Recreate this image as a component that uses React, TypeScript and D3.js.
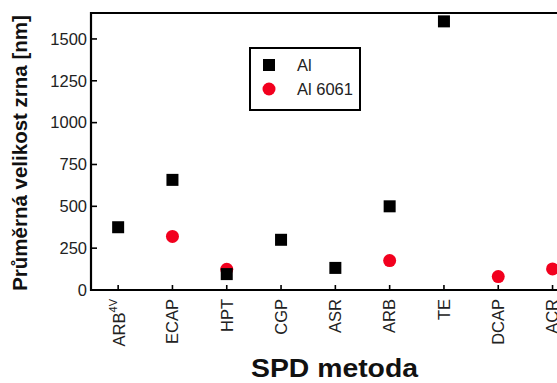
import React from "react";
import * as d3 from "d3";

const categories = ["ARB4V", "ECAP", "HPT", "CGP", "ASR", "ARB", "TE", "DCAP", "ACR"];
const alValues: (number | null)[] = [375, 658, 95, 300, 132, 500, 1605, null, null];
const al6061Values: (number | null)[] = [null, 320, 124, null, null, 176, null, 80, 126];
const yTicks = [0, 250, 500, 750, 1000, 1250, 1500];
const seriesNames = ["Al", "Al 6061"];

const W = 557;
const H = 383;
const left = 91;
const top = 13;
const bottom = 290;

export default function App() {
  const x = d3.scalePoint<string>().domain(categories).range([left, left + 9 * 54.3]).padding(0.5);
  const y = d3.scaleLinear().domain([0, 1655]).range([bottom, top]);
  const font = "Arial, 'Liberation Sans', sans-serif";

  return (
    <svg width={W} height={H} style={{ position: "absolute", left: 0, top: 0, background: "#fff" }} fontFamily={font}>
      {/* axes */}
      <line x1={left} y1={top} x2={W} y2={top} stroke="#000" strokeWidth={2.2} />
      <line x1={left} y1={top - 1} x2={left} y2={bottom + 1} stroke="#000" strokeWidth={2.2} />
      <line x1={left - 1} y1={bottom} x2={W} y2={bottom} stroke="#000" strokeWidth={2.2} />

      {yTicks.map((t) => (
        <g key={t}>
          <line x1={left} x2={left + 6} y1={y(t)} y2={y(t)} stroke="#000" strokeWidth={1.6} />
          <text x={left - 4} y={y(t)} dy="0.35em" textAnchor="end" fontSize={16.5} fill="#222">
            {t}
          </text>
        </g>
      ))}

      {categories.map((c) => {
        const cx = x(c)!;
        const isSup = c === "ARB4V";
        return (
          <g key={c}>
            <line x1={cx} x2={cx} y1={bottom} y2={bottom - 5} stroke="#000" strokeWidth={1.6} />
            <text
              transform={`translate(${cx + (isSup ? 1 : 0)},${bottom + 9}) rotate(-90)`}
              dy="0.35em"
              textAnchor="end"
              fontSize={16.5}
              fill="#222"
            >
              {isSup ? (
                <>
                  <tspan>ARB</tspan>
                  <tspan fontSize={11} dy="-0.7em">4V</tspan>
                </>
              ) : (
                c
              )}
            </text>
          </g>
        );
      })}

      {/* data */}
      {categories.map((c, i) =>
        al6061Values[i] == null ? null : (
          <circle key={"r" + c} cx={x(c)!} cy={y(al6061Values[i] as number)} r={6.5} fill="#f2001e" />
        )
      )}
      {categories.map((c, i) =>
        alValues[i] == null ? null : (
          <rect
            key={"b" + c}
            x={x(c)! - 6}
            y={y(alValues[i] as number) - 6}
            width={12}
            height={12}
            fill="#000"
          />
        )
      )}

      {/* legend */}
      <rect x={250} y={48} width={110} height={62} fill="#fff" stroke="#000" strokeWidth={2} />
      <rect x={263} y={59} width={12} height={12} fill="#000" />
      <text x={297} y={65} dy="0.35em" fontSize={16.5} fill="#222">{seriesNames[0]}</text>
      <circle cx={269} cy={89} r={6.5} fill="#f2001e" />
      <text x={297} y={89} dy="0.35em" fontSize={16.5} fill="#222">{seriesNames[1]}</text>

      {/* titles */}
      <text
        transform={`translate(27,153) rotate(-90)`}
        textAnchor="middle"
        fontSize={20.5}
        fontWeight="bold"
        fill="#111"
      >
        Průměrná velikost zrna [nm]
      </text>
      <text x={334.5} y={377} textAnchor="middle" fontSize={26} fontWeight="bold" fill="#111" textLength={167} lengthAdjust="spacingAndGlyphs">
        SPD metoda
      </text>
    </svg>
  );
}
